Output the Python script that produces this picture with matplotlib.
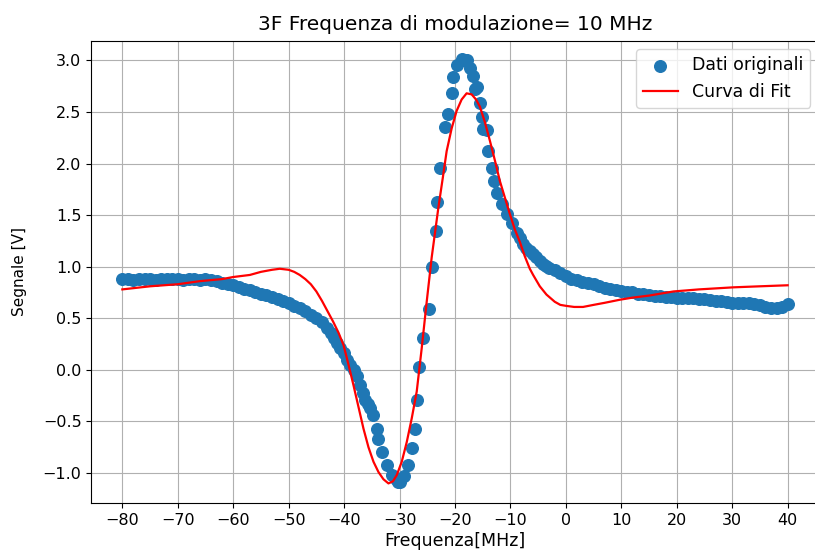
import matplotlib
matplotlib.use("Agg")
import matplotlib.pyplot as plt

# Measured signal (MHz, V)
freq_data = [
    -80, -79, -78, -77, -76, -75, -74, -73, -72, -71, -70, -69, -68, -67, -66, -65, -64,
    -63, -62, -61, -60, -59, -58, -57, -56, -55, -54, -53, -52, -51, -50, -49, -48, -47,
    -46, -45, -44, -43, -42.4, -41.9, -41.3, -40.7, -40.1, -39.5, -38.9, -38.3, -37.7,
    -37.1, -36.6, -36.2, -35.7, -35.3, -34.7, -34.1, -33.8, -33.2, -32.3, -31.4, -30.7,
    -30.2, -29.9, -29.2, -28.4, -27.8, -27.3, -26.9, -26.4, -25.7, -24.7, -24.2, -23.4,
    -23.3, -22.7, -21.8, -21.2, -20.6, -20.3, -19.7, -18.8, -18.3, -17.9, -17.3, -16.7,
    -16.4, -16.1, -15.5, -15.2, -14.9, -14.3, -14.0, -13.4, -13.0, -12.5, -11.6, -10.7,
    -9.8, -8.9, -8.3, -7.7, -7.1, -6.5, -5.9, -5.3, -4.7, -4.1, -3.5, -3.0, -2.0, -1.0,
    0, 1, 2, 3, 4, 5, 6, 7, 8, 9, 10, 11, 12, 13, 14, 15, 16, 17, 18, 19, 20, 21, 22,
    23, 24, 25, 26, 27, 28, 29, 30, 31, 32, 33, 34, 35, 36, 37, 38, 39, 40,
]
signal_data = [
    0.88, 0.88, 0.87, 0.88, 0.88, 0.88, 0.87, 0.88, 0.88, 0.88, 0.88, 0.87, 0.88, 0.88, 0.87, 0.88, 0.87,
    0.86, 0.84, 0.83, 0.82, 0.80, 0.78, 0.77, 0.75, 0.74, 0.73, 0.71, 0.69, 0.67, 0.65, 0.62, 0.60, 0.57,
    0.53, 0.50, 0.46, 0.41, 0.36, 0.31, 0.26, 0.21, 0.16, 0.10, 0.05, 0.00, -0.06,
    -0.15, -0.22, -0.29, -0.33, -0.37, -0.44, -0.57, -0.67, -0.80, -0.925, -1.02, -1.06,
    -1.09, -1.09, -1.03, -0.925, -0.76, -0.57, -0.29, 0.03, 0.31, 0.59, 1.00, 1.35,
    1.63, 1.96, 2.35, 2.48, 2.68, 2.84, 2.95, 3.01, 3.00, 3.00, 2.93, 2.85,
    2.72, 2.74, 2.59, 2.45, 2.33, 2.32, 2.12, 1.96, 1.83, 1.71, 1.61, 1.51,
    1.42, 1.33, 1.28, 1.22, 1.18, 1.15, 1.12, 1.09, 1.06, 1.03, 1.01, 0.99, 0.97, 0.94,
    0.91, 0.88, 0.87, 0.85, 0.84, 0.83, 0.81, 0.79, 0.78, 0.77, 0.76, 0.75, 0.75, 0.74,
    0.74, 0.73, 0.72, 0.72, 0.71, 0.71, 0.70, 0.70, 0.70, 0.70, 0.69, 0.69, 0.68, 0.67,
    0.67, 0.66, 0.65, 0.65, 0.65, 0.65, 0.64, 0.63, 0.61, 0.60, 0.60, 0.61, 0.64,
]

# Fitted model sampled on a frequency grid (MHz, V)
freq_fit = [
    -80, -75, -70, -66, -62, -60, -57, -55, -53, -51.6, -50, -49, -48, -47, -46, -45,
    -44, -43, -42, -41, -40.1, -39.2, -38.3, -37.4, -36.5, -35.6, -34.7, -33.8,
    -32.9, -32.0, -31.2, -30.5, -29.6, -28.7, -27.8, -26.9, -26.0, -25.1, -24.2, -23.0,
    -22.2, -21.5, -20.6, -19.7, -18.8, -17.9, -17.0, -16.2, -15.5, -14.6, -13.7, -12.8,
    -11.9, -11.0, -10.1, -9.2, -8.3, -7.4, -6.5, -5.9, -4.7, -3.5, -2.0, -1.0, 0.1, 1.5,
    3.1, 5, 7, 9.75, 12, 15, 19.4, 24, 30.2, 35, 40,
]
signal_fit = [
    0.78, 0.81, 0.83, 0.86, 0.88, 0.90, 0.92, 0.95, 0.97, 0.98, 0.97, 0.95, 0.92, 0.88, 0.83, 0.76,
    0.67, 0.57, 0.47, 0.36, 0.24, 0.05, -0.15, -0.36, -0.57, -0.75, -0.89, -0.99,
    -1.06, -1.10, -1.08, -1.02, -0.89, -0.70, -0.47, -0.21, 0.21, 0.66, 1.09, 1.57,
    1.86, 2.12, 2.34, 2.51, 2.62, 2.68, 2.67, 2.62, 2.55, 2.40, 2.22, 2.03,
    1.83, 1.67, 1.51, 1.36, 1.24, 1.10, 0.98, 0.92, 0.81, 0.73, 0.66, 0.63, 0.62, 0.61,
    0.61, 0.63, 0.65, 0.68, 0.70, 0.72, 0.76, 0.78, 0.80, 0.81, 0.82,
]

x_ticks = [-80, -70, -60, -50, -40, -30, -20, -10, 0, 10, 20, 30, 40]

fig = plt.figure(figsize=(8.15, 5.56), dpi=100)
ax = fig.add_axes([0.112, 0.0953, 0.8925, 0.8315])

ax.scatter(freq_data, signal_data, s=70, color="#1f77b4", label="Dati originali", zorder=2)
ax.plot(freq_fit, signal_fit, color="red", linewidth=1.6, label="Curva di Fit", zorder=3)

ax.set_xlim(-85.6, 45.6)
ax.set_ylim(-1.29, 3.19)
ax.set_xticks(x_ticks)
ax.grid(True)
ax.tick_params(labelsize=11.5)

ax.set_title("3F Frequenza di modulazione= 10 MHz", fontsize=14.5, pad=8)
ax.set_xlabel("Frequenza[MHz]", fontsize=12.5, labelpad=3)
ax.set_ylabel("Segnale [V]", fontsize=11, labelpad=11)
ax.legend(loc="upper right", fontsize=12.5)

fig.savefig("out.png", dpi=100)
